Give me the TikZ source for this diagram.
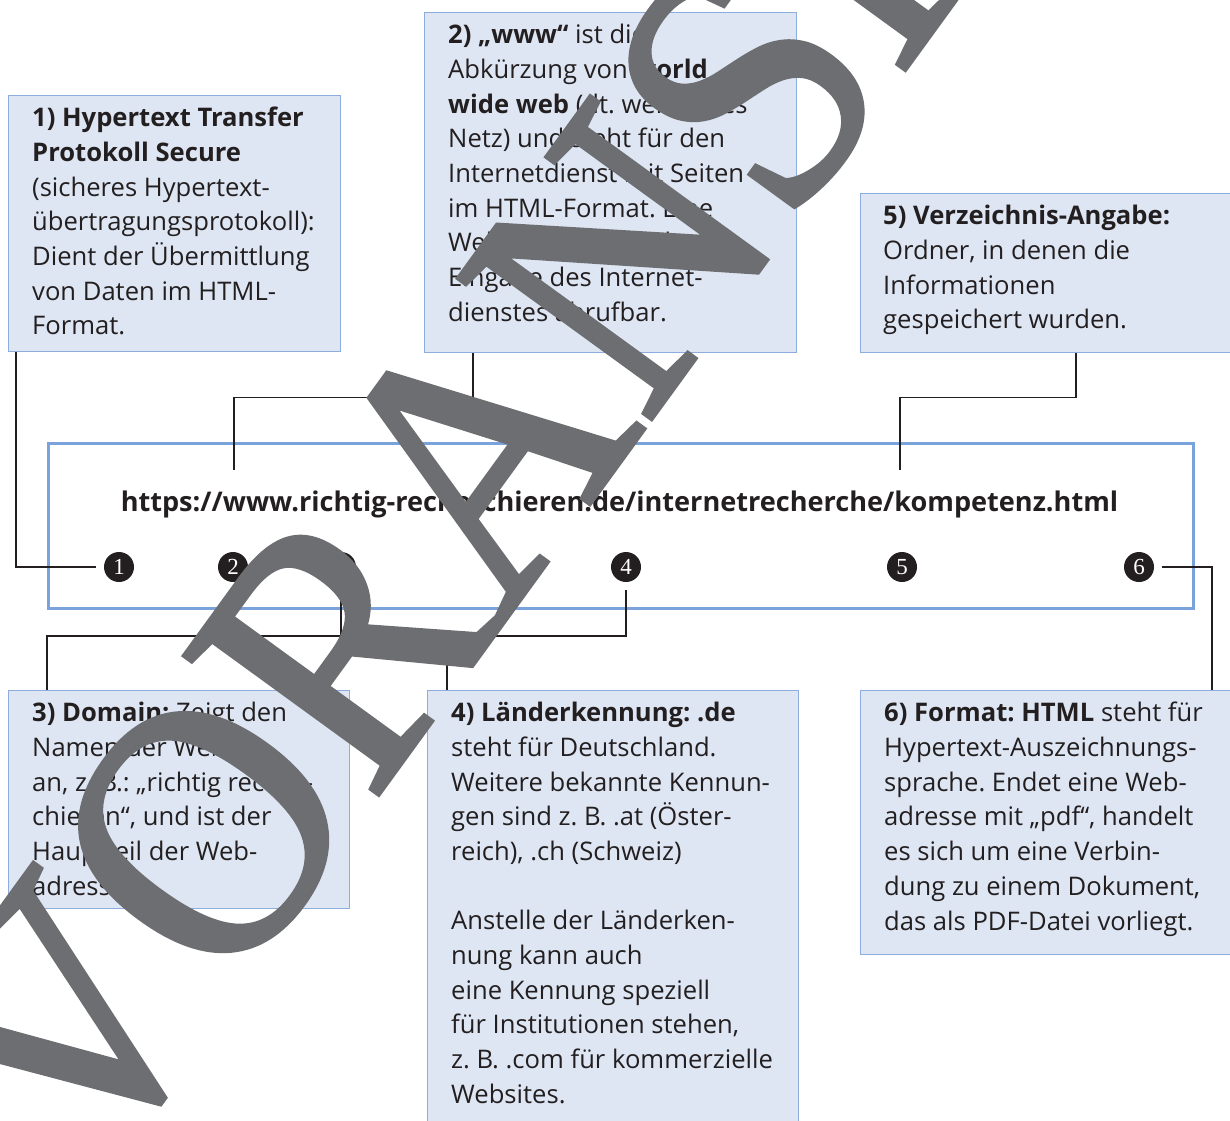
\documentclass[tikz,border=0pt]{standalone}
\usepackage{graphicx}
\usepackage{fontspec}
\setmainfont{Open Sans}
\newfontfamily\wmfont[FakeBold=1.2]{Liberation Serif}
\newfontfamily\numfont{Liberation Serif}
\frenchspacing

\definecolor{boxfill}{RGB}{222,230,243}
\definecolor{boxline}{RGB}{140,173,222}
\definecolor{urlline}{RGB}{122,163,219}
\definecolor{inkdark}{RGB}{35,31,32}
\definecolor{wmgray}{RGB}{109,110,113}

\tikzset{
  infobox/.style={draw=boxline, fill=boxfill, line width=1.2pt, inner sep=0pt, anchor=north west},
  infotext/.style={anchor=north west, inner sep=0pt, align=left, text=inkdark,
    font=\fontsize{25.6}{34.7}\selectfont},
  numdot/.style={circle, fill=inkdark, minimum size=30pt, inner sep=0pt, outer sep=8pt,
    text=white, font=\numfont\fontsize{23}{23}\selectfont},
  leader/.style={draw=inkdark, line width=1.2pt},
}

\begin{document}
\begin{tikzpicture}[x=1pt, y=-1pt]
  \useasboundingbox (0,0) rectangle (1230,1120);
  \clip (0,0) rectangle (1230,1120);
  \fill[white] (0,0) rectangle (1230,1120);

  % Adresszeile
  \node[draw=urlline, line width=2.6pt, minimum width=1145pt, minimum height=165pt,
    inner sep=0pt, anchor=north west] (urlbox) at (47,442) {};
  \node[anchor=base, inner sep=0pt, text=inkdark, font=\bfseries\fontsize{27.1}{30}\selectfont]
    (url) at (619.5,511) {https://www.richtig-recherchieren.de/internetrecherche/kompetenz.html};

  \node[numdot] (c1) at (119,567) {1};
  \node[numdot] (c2) at (233,567) {2};
  \node[numdot] (c3) at (341,567) {3};
  \node[numdot] (c4) at (626,567) {4};
  \node[numdot] (c5) at (902,567) {5};
  \node[numdot] (c6) at (1139,567) {6};

  % Erklaerungen oben
  \node[infobox, minimum width=332pt, minimum height=256pt] (b1) at (8,95) {};
  \node[infotext] (t1) at ([shift={(24,12)}]b1.north west)
    {\textbf{1) Hypertext Transfer}\\ \textbf{Protokoll Secure}\\ (sicheres Hypertext-\\
     übertragungsprotokoll):\\ Dient der Übermittlung\\ von Daten im HTML-\\ Format.};

  \node[infobox, minimum width=372pt, minimum height=340pt] (b2) at (424,12) {};
  \node[infotext] (t2) at ([shift={(24,12)}]b2.north west)
    {\textbf{2) „www“} ist die\\ Abkürzung von \textbf{world}\\ \textbf{wide web} (dt. weltweites\\
     Netz) und steht für den\\ Internetdienst mit Seiten\\ im HTML-Format. Eine\\
     Website ist auch ohne\\ Eingabe des Internet-\\ dienstes abrufbar.};

  \node[infobox, minimum width=380pt, minimum height=159pt] (b5) at (860,193) {};
  \node[infotext] (t5) at ([shift={(23,12)}]b5.north west)
    {\textbf{5) Verzeichnis-Angabe:}\\ Ordner, in denen die\\ Informationen\\ gespeichert wurden.};

  % Erklaerungen unten
  \node[infobox, minimum width=341pt, minimum height=218pt] (b3) at (8,690) {};
  \node[infotext] (t3) at ([shift={(24,12)}]b3.north west)
    {\textbf{3) Domain:} Zeigt den\\ Namen der Website\\ an, z. B.: „richtig recher-\\
     chieren“, und ist der\\ Hauptteil der Web-\\ adresse.};

  \node[infobox, minimum width=371pt, minimum height=440pt] (b4) at (427,690) {};
  \node[infotext] (t4) at ([shift={(24,12)}]b4.north west)
    {\textbf{4) Länderkennung: .de}\\ steht für Deutschland.\\ Weitere bekannte Kennun-\\
     gen sind z. B. .at (Öster-\\ reich), .ch (Schweiz)\\[34.7pt]
     Anstelle der Länderken-\\ nung kann auch\\ eine Kennung speziell\\
     für Institutionen stehen,\\ z. B. .com für kommerzielle\\ Websites.};

  \node[infobox, minimum width=380pt, minimum height=264pt] (b6) at (860,690) {};
  \node[infotext] (t6) at ([shift={(24,12)}]b6.north west)
    {\textbf{6) Format: HTML} steht für\\ Hypertext-Auszeichnungs-\\ sprache. Endet eine Web-\\
     adresse mit „pdf“, handelt\\ es sich um eine Verbin-\\ dung zu einem Dokument,\\
     das als PDF-Datei vorliegt.};

  % Verbindungslinien
  \coordinate (p2) at (234,470);
  \coordinate (p5) at (900,470);
  \draw[leader] ([xshift=8pt]b1.south west) |- (c1.west);
  \draw[leader] ([xshift=49pt]b2.south west) -- ++(0,44) -| (p2);
  \draw[leader] ([xshift=216pt]b5.south west) -- ++(0,44) -| (p5);
  \draw[leader] (c3.south) -- ++(0,46) -| ([xshift=39pt]b3.north west);
  \draw[leader] (c4.south) -- ++(0,46) -| ([xshift=20pt]b4.north west);
  \draw[leader] (c6.east) -| ([xshift=352pt]b6.north west);

  % Wasserzeichen
  \node[rotate=54, anchor=base west, inner sep=0pt, text=wmgray,
    font=\wmfont\fontsize{365}{365}\selectfont] (wm) at (86.5,1196.6)
    {\scalebox{0.92}[1]{VORANSICHT}};
\end{tikzpicture}
\end{document}
